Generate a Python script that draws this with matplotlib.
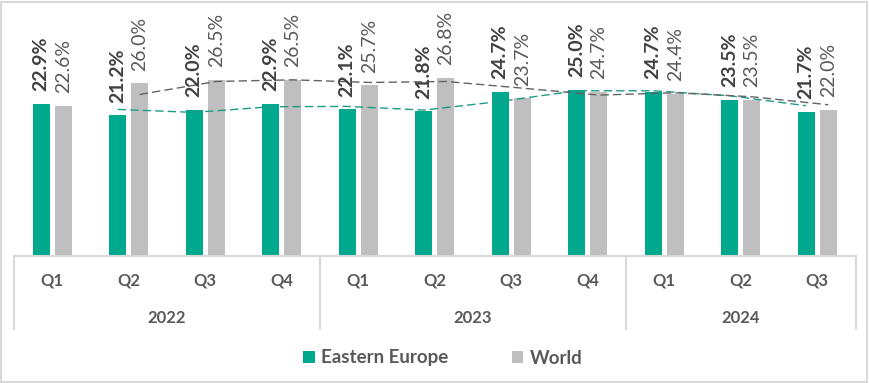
import matplotlib
matplotlib.use("Agg")
import matplotlib.pyplot as plt
import numpy as np
import pandas as pd

quarters = ["Q1", "Q2", "Q3", "Q4", "Q1", "Q2", "Q3", "Q4", "Q1", "Q2", "Q3"]
years = ["2022", "2023", "2024"]
year_spans = [(0, 3), (4, 7), (8, 10)]
eastern_europe = [22.9, 21.2, 22.0, 22.9, 22.1, 21.8, 24.7, 25.0, 24.7, 23.5, 21.7]
world = [22.6, 26.0, 26.5, 26.5, 25.7, 26.8, 23.7, 24.7, 24.4, 23.5, 22.0]

plt.rcParams['font.family'] = ['Lato', 'DejaVu Sans']

W, H = 869, 383
fig = plt.figure(figsize=(W / 100, H / 100), dpi=100)

# outer border
fig.patches.append(plt.Rectangle((1 / W, 1 / H), (W - 3) / W, (H - 3) / H,
                                 transform=fig.transFigure, fill=False,
                                 edgecolor='#D9D9D9', linewidth=1.5))

left, right, bottom, top = 14, 855.5, 256, 10
ax = fig.add_axes([left / W, 1 - bottom / H, (right - left) / W, (bottom - top) / H])

n = len(quarters)
x = np.arange(n)
bw = 0.222
off = 0.144
green = '#00A88E'
grey = '#BFBFBF'

ax.bar(x - off, eastern_europe, bw, color=green, label='Eastern Europe', zorder=2)
ax.bar(x + off, world, bw, color=grey, label='World', zorder=2)

# 2-period moving average trendlines
ee_ma = pd.Series(eastern_europe).rolling(2).mean()
w_ma = pd.Series(world).rolling(2).mean()
ax.plot(x[1:] - off, ee_ma[1:], color='#1E9C86', lw=1.0, ls=(0, (6, 3)), zorder=3)
ax.plot(x[1:] + off, w_ma[1:], color='#636363', lw=1.0, ls=(0, (6, 3)), zorder=3)

for i in range(n):
    ax.annotate(f"{eastern_europe[i]:.1f}%", (x[i] - off, eastern_europe[i]),
                xytext=(0, 9), textcoords='offset points', rotation=90,
                ha='center', va='bottom', fontsize=14, fontweight='bold',
                color='#404040')
    ax.annotate(f"{world[i]:.1f}%", (x[i] + off, world[i]),
                xytext=(0, 9), textcoords='offset points', rotation=90,
                ha='center', va='bottom', fontsize=14, color='#595959')

ax.set_xlim(-0.5, n - 0.5)
ax.set_ylim(0, 37)
for s in ['top', 'right', 'left']:
    ax.spines[s].set_visible(False)
ax.spines['bottom'].set_color('#D9D9D9')
ax.spines['bottom'].set_linewidth(1.5)
ax.set_yticks([])
ax.set_xticks([])

trans = ax.get_xaxis_transform()
ph = bottom - top
for i, q in enumerate(quarters):
    ax.text(i, -25 / ph, q, transform=trans, ha='center', va='center',
            fontsize=12, fontweight='bold', color='#595959')
for (a, b), yr in zip(year_spans, years):
    ax.text((a + b) / 2, -62 / ph, yr, transform=trans, ha='center', va='center',
            fontsize=12, fontweight='bold', color='#595959')
for sx in [-0.5, 3.5, 7.5, 10.5]:
    ax.plot([sx, sx], [0, -73 / ph], transform=trans, color='#D9D9D9',
            lw=1.5, clip_on=False)

leg = fig.legend(loc='center', bbox_to_anchor=(443 / W, 1 - 358 / H), ncol=2,
                 frameon=False, handlelength=0.6, handleheight=0.6,
                 handletextpad=0.35, columnspacing=3.4,
                 prop={'size': 13.5, 'weight': 'bold'})
for t in leg.get_texts():
    t.set_color('#595959')

fig.savefig('out.png', dpi=100)
